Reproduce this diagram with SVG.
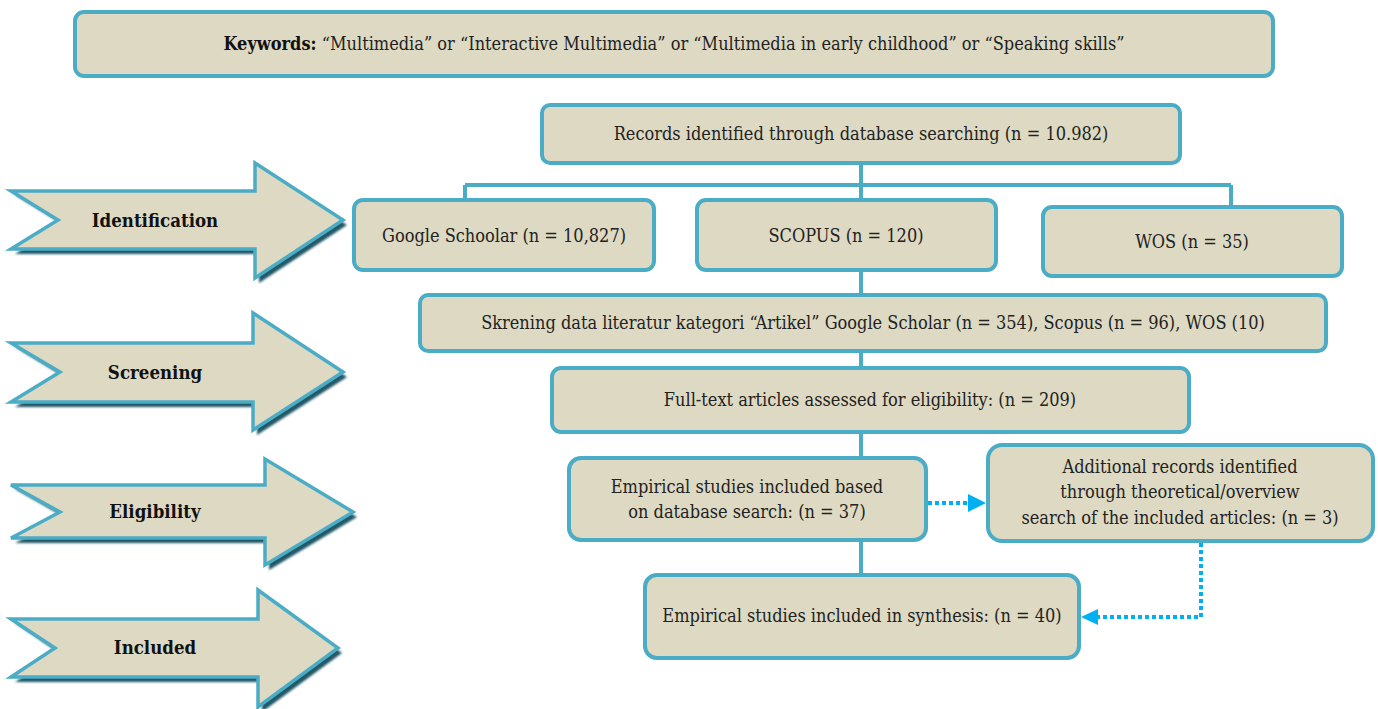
<svg xmlns="http://www.w3.org/2000/svg" width="1378" height="709" viewBox="0 0 1378 709">
<defs>
<style>
.box{fill:#ddd9c3;stroke:#4bacc6;stroke-width:4}
.arr{fill:#ddd9c3;stroke:#4bacc6;stroke-width:3.5;stroke-linejoin:miter}
.sh{fill:#215868}
.t{font-family:"DejaVu Serif Condensed","DejaVu Serif","Liberation Serif",serif;font-stretch:condensed;font-size:18px;fill:#222;text-anchor:middle}
.lb{font-family:"DejaVu Serif Condensed","DejaVu Serif","Liberation Serif",serif;font-stretch:condensed;font-size:18.5px;font-weight:bold;fill:#111;text-anchor:middle}
.ln{stroke:#4bacc6;stroke-width:4;fill:none}
.dot{stroke:#00b0f0;stroke-width:4;fill:none;stroke-dasharray:4 3}
</style>
<filter id="blur" x="-5%" y="-5%" width="110%" height="110%"><feGaussianBlur stdDeviation="1"/></filter>
</defs>
<rect width="1378" height="709" fill="#fff"/>

<g id="stage-identification">
<path class="sh" filter="url(#blur)" d="M15,195 L62,224 L15,254 L259,254 L259,283 L347,225 L259,168 L259,195 Z"/>
<path class="arr" d="M11,191 L58,220 L11,249 L255,249 L255,278 L343,220 L255,163 L255,191 Z"/>
<text class="lb" x="155" y="227">Identification</text>
</g>
<g id="stage-screening">
<path class="sh" filter="url(#blur)" d="M15,347 L64,377 L15,407 L257,407 L257,435 L347,377 L257,318 L257,347 Z"/>
<path class="arr" d="M11,343 L60,372 L11,402 L253,402 L253,430 L343,372 L253,313 L253,343 Z"/>
<text class="lb" x="155" y="379">Screening</text>
</g>
<g id="stage-eligibility">
<path class="sh" filter="url(#blur)" d="M15,489 L64,517 L15,543 L269,543 L269,570 L357,517 L269,464 L269,489 Z"/>
<path class="arr" d="M11,485 L60,512 L11,538 L265,538 L265,565 L353,512 L265,459 L265,485 Z"/>
<text class="lb" x="155" y="518">Eligibility</text>
</g>
<g id="stage-included">
<path class="sh" filter="url(#blur)" d="M15,623 L59,653 L15,682 L262,682 L262,712 L342,653 L262,595 L262,623 Z"/>
<path class="arr" d="M11,619 L55,648 L11,677 L258,677 L258,707 L338,648 L258,590 L258,619 Z"/>
<text class="lb" x="155" y="654">Included</text>
</g>

<g id="connectors">
<path class="ln" d="M861,163 V185 M465,185 H1231 M465,185 V200 M861,185 V200 M1231,185 V207"/>
<path class="ln" d="M861,270 V295"/>
<path class="ln" d="M861,351 V368"/>
<path class="ln" d="M861,432 V458"/>
<path class="ln" d="M861,540 V575"/>
<path class="dot" d="M928,503 H970"/>
<path d="M986,503 L968,494 L968,512 Z" fill="#00b0f0"/>
<path class="dot" d="M1201,543 V617 H1096"/>
<path d="M1081,617 L1098,609 L1098,625 Z" fill="#00b0f0"/>
</g>

<g id="keywords">
<rect class="box" x="75" y="12" width="1198" height="64" rx="9"/>
<text class="t" x="674" y="50"><tspan font-weight="bold" fill="#111">Keywords:</tspan> “Multimedia” or “Interactive Multimedia” or “Multimedia in early childhood” or “Speaking skills”</text>
</g>
<g id="records">
<rect class="box" x="542" y="105" width="638" height="58" rx="8"/>
<text class="t" x="861" y="140">Records identified through database searching (n = 10.982)</text>
</g>
<g id="google">
<rect class="box" x="354" y="200" width="300" height="70" rx="9"/>
<text class="t" x="504" y="242">Google Schoolar (n = 10,827)</text>
</g>
<g id="scopus">
<rect class="box" x="697" y="200" width="299" height="70" rx="9"/>
<text class="t" x="846" y="242">SCOPUS (n = 120)</text>
</g>
<g id="wos">
<rect class="box" x="1043" y="207" width="299" height="69" rx="9"/>
<text class="t" x="1192" y="248">WOS (n = 35)</text>
</g>
<g id="skrening">
<rect class="box" x="420" y="295" width="906" height="56" rx="8"/>
<text class="t" x="873" y="329">Skrening data literatur kategori “Artikel” Google Scholar (n = 354), Scopus (n = 96), WOS (10)</text>
</g>
<g id="fulltext">
<rect class="box" x="552" y="368" width="637" height="64" rx="9"/>
<text class="t" x="870" y="406">Full-text articles assessed for eligibility: (n = 209)</text>
</g>
<g id="empirical37">
<rect class="box" x="569" y="458" width="357" height="82" rx="12"/>
<text class="t" x="747" y="493">Empirical studies included based</text>
<text class="t" x="747" y="518">on database search: (n = 37)</text>
</g>
<g id="additional">
<rect class="box" x="988" y="445" width="385" height="96" rx="14"/>
<text class="t" x="1180" y="473">Additional records identified</text>
<text class="t" x="1180" y="498">through theoretical/overview</text>
<text class="t" x="1180" y="524">search of the included articles: (n = 3)</text>
</g>
<g id="synthesis">
<rect class="box" x="645" y="575" width="434" height="83" rx="12"/>
<text class="t" x="862" y="622">Empirical studies included in synthesis: (n = 40)</text>
</g>
</svg>
